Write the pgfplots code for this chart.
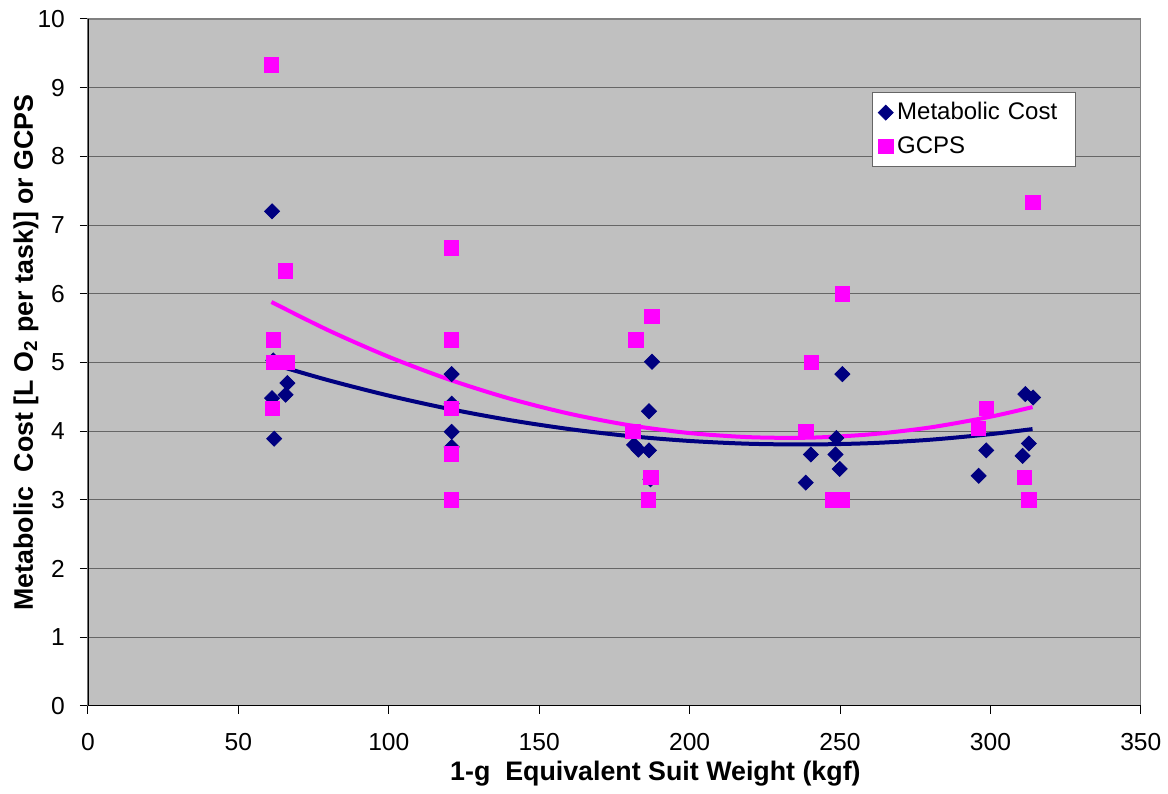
\documentclass[border=0pt]{standalone}
\usepackage{fontspec}
\setmainfont{Liberation Sans}
\usepackage{pgfplots}
\pgfplotsset{compat=1.18}
\definecolor{bgray}{HTML}{C0C0C0}
\definecolor{navyc}{HTML}{000080}
\definecolor{magc}{HTML}{FF00FF}
\begin{document}
\begin{tikzpicture}
\begin{axis}[
  name=ax,
  scale only axis,
  width=526.5pt, height=343.5pt,
  xmin=0, xmax=350, ymin=0, ymax=10,
  xtick={0,50,...,350}, ytick={0,1,...,10},
  xtick pos=left, ytick pos=left,
  tick align=outside,
  major tick length=4pt,
  tick style={black, line width=0.5pt},
  ymajorgrids,
  major grid style={black!60, line width=0.5pt},
  axis background/.style={fill=bgray},
  axis line style={draw=gray, line width=0.6pt},
  /pgf/number format/assume math mode=true,
  ticklabel style={font=\fontsize{12.3}{14}\selectfont},
  xticklabel style={yshift=-6pt},
  yticklabel style={xshift=-4pt},
  xlabel={1-g\ \ Equivalent Suit Weight (kgf)},
  ylabel={Metabolic\ \ Cost [L O\textsubscript{2} per task)] or GCPS},
  xlabel style={at={(axis description cs:0.5,0)}, anchor=center, yshift=-34pt, xshift=20.5pt, font=\fontsize{13.4}{15}\selectfont\bfseries},
  ylabel style={at={(axis description cs:0,0.5)}, anchor=center, yshift=31pt, xshift=5pt, font=\fontsize{13.4}{15}\selectfont\bfseries},
  legend style={at={(rel axis cs:0.7445,0.8937)}, anchor=north west, draw=black!60, fill=white,
    font=\fontsize{12}{14}\selectfont, inner xsep=3pt, inner ysep=3pt, row sep=3pt,
    text width=84pt},
  legend cell align=left,
  legend image code/.code={\draw[mark repeat=2,mark phase=2] plot coordinates {(0cm,0cm)(0.12cm,0cm)(0.24cm,0cm)};},
]
\addplot[only marks, mark=square*, mark size=2.65pt, mark options={rotate=45, fill=navyc, draw=navyc}, color=navyc]
coordinates {
(61.2,7.20) (61.6,5.03) (66.3,4.70) (65.7,4.53) (61.2,4.48) (61.9,3.89)
(120.9,4.83) (120.9,4.40) (120.9,3.99) (120.9,3.77)
(187.5,5.01) (186.5,4.29) (181.5,3.80) (183,3.73) (186.5,3.72) (187,3.30)
(250.8,4.83) (248.8,3.90) (240.3,3.66) (248.5,3.66) (249.9,3.45) (238.6,3.25)
(311.6,4.54) (314.2,4.49) (312.8,3.82) (298.6,3.72) (310.7,3.64) (296.1,3.35)
};
\addlegendentry{\mbox{Metabolic Cost}}
\addplot[only marks, mark=square*, mark size=3.6pt, mark options={fill=magc, draw=magc}, color=magc]
coordinates {
(60.9,9.33) (65.7,6.33) (61.7,5.33) (61.7,5.0) (66.2,5.0) (61.4,4.33)
(120.9,6.67) (120.9,5.33) (120.9,4.33) (120.9,3.67) (120.9,3.0)
(187.5,5.67) (182.1,5.33) (181.2,4.0) (187.1,3.33) (186.4,3.0)
(250.8,6.0) (240.4,5.0) (238.6,4.0) (247.7,3.0) (250.8,3.0)
(314.1,7.33) (298.6,4.33) (296.1,4.04) (311.2,3.33) (312.8,3.0)
};
\addlegendentry{GCPS}
\addplot[navyc, line width=2pt, smooth, forget plot] coordinates {
(61,4.98) (80,4.740) (100,4.517) (120,4.324) (140,4.162) (160,4.030) (180,3.928)
(200,3.857) (220,3.816) (240,3.806) (260,3.825) (280,3.875) (300,3.956) (314,4.03)
};
\addplot[magc, line width=2pt, smooth, forget plot] coordinates {
(61,5.88) (80,5.466) (100,5.082) (120,4.752) (140,4.476) (160,4.254) (180,4.086)
(200,3.972) (220,3.912) (240,3.905) (260,3.953) (280,4.054) (300,4.210) (314,4.35)
};
\draw[black, line width=0.6pt] (rel axis cs:0,1) -- (rel axis cs:0,0) -- (rel axis cs:1,0);
\end{axis}
\path[use as bounding box] ([xshift=-44pt,yshift=-42pt]ax.south west) rectangle ([xshift=13.5pt,yshift=9.5pt]ax.north east);
\end{tikzpicture}
\end{document}
